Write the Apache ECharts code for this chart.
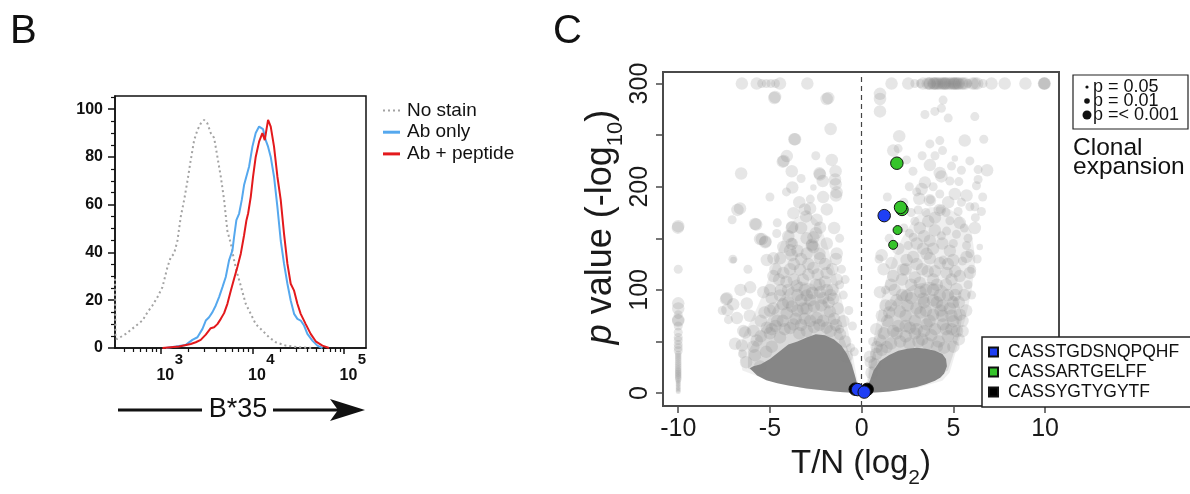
<!DOCTYPE html>
<html>
<head>
<meta charset="utf-8">
<script src="https://cdn.jsdelivr.net/npm/echarts@6.0.0/dist/echarts.min.js"></script>
<style>
  html, body { margin: 0; padding: 0; background: #fff; }
  #chart { width: 1190px; height: 494px; }
</style>
</head>
<body>
<div id="chart"></div>
<script>
// ---- panel B: B*35 staining histogram (x in log10 units) ----
var noStainX = [2.50, 2.505, 2.527, 2.618, 2.709, 2.80, 2.855, 2.909, 2.964, 3.018, 3.073, 3.109, 3.145, 3.182, 3.218, 3.255, 3.291, 3.327, 3.364, 3.40, 3.436, 3.473, 3.509, 3.545, 3.582, 3.618, 3.655, 3.691, 3.727, 3.764, 3.80, 3.836, 3.873, 3.927, 3.982, 4.036, 4.109, 4.182, 4.255, 4.364, 4.509, 4.655];
var noStainY = [29, 4, 3.8, 5.9, 8.7, 11.5, 15, 17.8, 21.3, 25.5, 33.9, 38, 39.5, 45, 55, 62, 70, 78.7, 87, 91.3, 94, 95.5, 94, 90, 88, 80, 71.7, 62, 49, 43.7, 36.7, 31, 26, 18.5, 14.3, 10, 7.3, 4.5, 2.4, 1, 0.3, 0];

var abOnlyX = [3.055, 3.164, 3.273, 3.345, 3.40, 3.455, 3.491, 3.527, 3.564, 3.60, 3.636, 3.673, 3.709, 3.745, 3.782, 3.80, 3.825, 3.855, 3.884, 3.909, 3.927, 3.964, 4.0, 4.036, 4.073, 4.091, 4.116, 4.145, 4.171, 4.20, 4.236, 4.273, 4.309, 4.345, 4.382, 4.418, 4.455, 4.491, 4.527, 4.564, 4.60, 4.655, 4.709, 4.764];
var abOnlyY = [0, 0.6, 1.3, 3.4, 4.5, 8, 11.5, 12.9, 15, 17.8, 21.3, 25.5, 29.7, 36.7, 40.9, 46.5, 53.5, 56.3, 62, 68.2, 67.5, 76, 84.3, 90, 92.7, 93.4, 91.6, 87, 84.3, 80, 71.7, 59, 45, 35.3, 26.9, 19.9, 14.3, 12.2, 11.5, 9.4, 5.9, 3.1, 1, 0];

var abPepX = [3.018, 3.20, 3.327, 3.382, 3.436, 3.491, 3.545, 3.582, 3.618, 3.655, 3.691, 3.727, 3.764, 3.80, 3.836, 3.873, 3.909, 3.935, 3.953, 3.982, 4.007, 4.036, 4.073, 4.109, 4.135, 4.153, 4.171, 4.20, 4.236, 4.273, 4.309, 4.345, 4.382, 4.418, 4.455, 4.491, 4.527, 4.582, 4.636, 4.691, 4.764, 4.836];
var abPepY = [0, 0.6, 1.7, 2.4, 3.4, 5.6, 8.3, 8.7, 10, 12.2, 14.6, 18.5, 24, 29, 33.9, 39.5, 47.2, 53.5, 56.3, 63.3, 71.7, 80, 86.4, 90, 87, 91.3, 95.5, 92.7, 84.3, 71.7, 62, 47.9, 35.3, 26.9, 24, 18.5, 14.3, 10, 5.9, 2.8, 1, 0];

var xTickLog = [3, 4, 5];
var minorTickValues = [400, 500, 600, 700, 800, 900, 2000, 3000, 4000, 5000, 6000, 7000, 8000, 9000, 20000, 30000, 40000, 50000, 60000, 70000, 80000, 90000];
var yTicksB = [0, 20, 40, 60, 80, 100];
var yMinorB = [5, 10, 15, 25, 30, 35, 45, 50, 55, 65, 70, 75, 85, 90, 95, 105];

// ---- panel C: volcano, points are [T/N log2, -log10 p, size class] ----
var topRow = [[-6.53,300,3],[-5.72,300,3],[-5.45,300,2],[-5.2,300,2],[-4.95,300,2],[-4.7,300,2],[-4.45,300,3],[-2.96,300,3],
  [1.63,300,3],[2.54,300,3],[2.9,300,2],[3.2,300,2],[3.35,300,3],[3.6,300,3],[3.72,300,3],[3.9,300,3],[4.08,300,3],[4.25,300,3],[4.44,300,3],[4.6,300,3],[4.81,300,3],[5.0,300,3],[5.17,300,3],[5.3,300,3],[5.53,300,3],[5.8,300,2],[6.17,300,3],[6.3,300,3],[6.62,300,2],[7.08,300,3],[7.8,300,3],[8.93,300,3],[9.94,300,3],[9.96,300,3],[9.98,300,3],
  [3.7,300,3],[3.95,300,3],[4.15,300,3],[4.35,300,3],[4.55,300,3],[4.7,300,3],[4.9,300,3],[5.05,300,3],[5.25,300,3],[5.45,300,3],[5.65,300,3],[6.05,300,3],[4.5,300,3],[5.1,300,3],[4.0,300,3]];

var leftCloud = [[-4.76,286,3],[-1.82,286,3],[-1.69,256,3],[-3.67,246,3],[-4.08,229.7,3],[-4.3,224.3,3],[-4.25,225,3],[-3.81,215,3],[-6.57,212.8,3],[-2.27,211.9,3],[-2.3,213,3],[-2.12,205.6,3],[-1.63,226,3],[-1.42,215,3],[-1.42,202.5,3],[-3.78,199.3,3],[-2.63,199.3,1],[-1.4,191.5,3],[-6.63,179,3],[-6.77,177.5,3],[-7.06,168,2],[-10.02,160.3,3],[-5.81,164,3],[-3.72,174.4,3],[-3.03,171.2,3],[-2.81,179,3],[-3.81,160.3,3],[-3.78,161,3],[-2.45,168,3],[-2.27,160.3,3],[-2.63,151,3],[-2.72,143,3],[-2.7,144,3],[-3.81,144.7,3],[-3.78,146,2],[-4.27,141.6,3],[-5.54,149.3,3],[-5.26,146.2,3],[-5.24,147,3],[-4.63,154.7,2],[-1.36,135.3,3],[-3.81,133.7,3],[-2.99,135.3,3],[-2.27,130.6,3],[-4.81,130.6,3],[-6.99,129,1],
  [-7.02,129.7,2],[-5.17,129,3],[-4.45,130.6,3],[-3.9,138.4,3],[-2.63,141.6,3],[-4.81,113.4,3],[-4.27,116.5,3],[-3.36,119.6,3],[-2.63,121.2,3],[-1.91,116.5,3],[-1.36,110.2,3],[-6.08,102.5,3],[-5.36,97.8,3],[-4.45,94.7,3],[-3.54,104,3],[-2.99,94.7,3],[-2.27,97.8,3],[-1.55,91.5,3],[-7.39,91,3],[-7.35,92,3],[-6.26,86.8,3],[-7.32,80.6,3],[-7.26,71.2,2],[-4.81,82,3],[-4.08,77.4,3],[-3.18,82,3],[-2.45,72.7,3],[-1.73,79,3],[-1.0,69.7,3],[-6.45,60.3,3],[-5.9,60.3,3],[-6.53,46.2,3],[-5.72,51,3],[-5.17,63.4,3],[-4.45,54,3],[-3.72,66.6,3],[-2.99,60.3,3],[-1.91,63.4,3],[-1.18,57.2,3],[-0.82,35.3,3],[-5.81,36.8,3],[-5.54,25.9,3],
  [-4.72,287,3],[-3.63,246,3],[-1.91,285,3],[-6.35,58.7,3],[-6.9,47.8,3],[-6.8,72.7,3],[-5.75,163.4,3],[-5.44,149.3,3],[-1.45,207,3],[-1.36,194.6,3],
  [-3.5,80,3],[-2.8,90,3],[-2.2,85,3],[-1.6,100,3],[-3.2,110,3],[-2.0,125,3],[-1.0,95,2],[-0.7,80,2],[-4.0,100,3],[-4.6,70,3],[-5.0,80,3],[-5.5,70,3],[-3.0,150,3],[-2.4,115,3],[-1.2,150,2],[-1.9,178,3],[-1.5,160,3],[-3.4,185,3],[-3.3,130,3],[-3.9,120,3],[-2.5,105,3],[-1.8,88,3],[-3.1,72,3],[-4.2,62,3],[-4.9,45,3],[-3.4,58,3],[-2.6,64,3],[-2.1,70,3],[-1.5,72,3],[-0.9,50,3],[-0.6,44,2],[-5.2,40,3],[-4.0,88,3],[-2.9,115,3],[-3.5,95,3],[-1.3,82,3],[-2.0,108,3],[-4.5,110,3],[-3.7,125,3],[-1.1,120,2],
  [-5.9,45,3],[-5.5,55,3],[-5.0,58,3],[-4.7,65,3],[-4.3,70,3],[-3.9,63,3],[-3.6,72,3],[-3.3,66,3],[-2.8,70,3],[-2.3,66,3],[-1.7,60,3],[-1.4,66,3],[-1.2,62,2],[-5.3,78,3],[-4.9,92,3],[-4.3,86,3],[-3.8,84,3],[-3.3,90,3],[-2.6,84,3],[-2.1,92,3],[-1.7,95,3],[-1.2,105,2],[-4.7,120,3],[-4.1,108,3],[-3.7,110,3],[-3.1,100,3],[-2.7,97,3],[-2.3,105,3],[-1.9,100,3],[-1.6,120,3],[-2.9,125,3],[-3.5,138,3],[-2.3,135,3],[-1.9,145,3],[-2.5,155,3],[-3.3,160,3],[-4.0,152,3],[-4.6,165,2],[-3.1,178,3],[-2.1,190,3],[-2.8,188,2],[-4.1,195,2],[-3.3,208,2],[-2.5,230,2],[-5.0,190,2],[-6.2,120,2],[-6.6,100,3],[-7.0,86,3],[-7.6,80,2],[-6.1,75,3],[-5.0,100,3],[-4.4,100,3],[-3.0,82,3],[-1.4,130,3],[-0.9,110,2],[-0.5,65,2],[-0.4,40,2],[-6.3,30,3],[-6.5,38,2],[-4.9,62,3]];

var rightCloud = [[1.0,290,3],[1.0,285,3],[1.0,273,3],[4.44,284,2],[4.35,276,2],[3.99,273,2],[3.45,270,2],[4.72,266.5,2],[6.17,268,2],[2.05,249,3],[1.72,235,3],[1.99,237,2],[2.45,226,2],[3.72,241.5,2],[4.26,244.7,2],[4.41,235,2],[5.62,244.7,3],[6.66,246,2],[5.08,227.4,1],[3.72,221,3],[4.26,213.4,3],[4.35,210,3],[5.44,216,2],[6.35,216.6,2],[6.84,216,3],[4.81,205.6,2],[3.45,204,3],[3.27,197.8,3],[6.35,207,2],[6.26,201,2],[4.26,193,2],[5.08,193,3],[5.72,191.5,3],[3.14,188.4,3],[3.72,186.8,3],[3.75,187.5,2],[4.72,185,3],[5.44,185,2],[5.9,180.6,2],[3.08,177.5,2],[4.26,177.5,3],[4.29,178,2],[5.26,176,2],[6.17,180.6,2],[6.53,176,2],[2.9,166.5,2],[3.63,166.5,3],[4.81,167,2],[5.35,165,3],[3.17,160,3],[3.99,157.8,3],[4.63,157,2],[6.17,160,3],[2.81,151,2],[3.72,147.7,3],[4.35,152.4,2],[5.17,154,2],[5.72,143,2],[6.44,141.6,1],[2.54,143,2],[3.35,140,3],[4.81,138,3],[1.09,133.7,3],[2.45,129,3],[3.72,130.6,3],[4.44,129,2],[5.9,135.3,2],
  [1.63,126,3],[1.0,97.8,3],[1.72,113.4,3],[2.26,119.6,3],[2.81,132,3],[3.54,135,3],[4.26,126,3],[4.99,129,3],[5.72,132,3],[3.17,107,3],[3.9,110,3],[4.63,116.5,3],[5.35,113.4,3],[5.9,116.5,3],[2.45,94.7,3],[3.35,91.5,3],[4.26,94.7,3],[5.17,100.9,3],[2.08,79,3],[2.99,82,3],[3.9,76,3],[4.81,82,3],[5.35,76,3],[1.72,60.3,3],[2.63,63.4,3],[3.54,66.6,3],[4.44,66.6,3],[4.99,69.7,3],[0.45,35.3,3],[1.0,51,3],[0.82,44.6,3],[1.36,44.6,3],[0.54,19.7,3],
  [1.4,70,3],[2.0,65,3],[2.4,55,3],[2.9,58,3],[3.3,52,3],[3.8,56,3],[4.2,50,3],[4.7,55,3],[5.2,60,3],[5.5,70,3],[5.0,88,3],[4.4,85,3],[3.9,90,3],[3.2,98,3],[2.7,105,3],[2.2,110,3],[1.8,100,3],[1.3,85,3],[1.1,75,3],[0.8,62,3],[3.6,118,3],[4.1,105,3],[4.9,110,3],[5.6,95,3],[5.8,105,2],[6.0,120,2],[3.0,125,3],[2.0,140,3],[1.5,150,2],[1.2,120,3],[2.7,175,2],[3.0,195,2],[2.6,200,2],[1.4,190,2],[0.95,130,2],[2.3,160,2],[5.6,160,2],[5.0,145,2],[6.6,190,2],[4.0,230,2],[3.3,230,2],[2.8,215,2],[2.2,95,3],[2.9,70,3],[3.5,80,3],[4.4,75,3],[4.7,95,3],[1.6,85,3],[2.5,85,3],[3.9,100,3],[4.6,62,3],[5.3,88,3],[0.7,28,3],[0.6,50,2],
  [0.5,30,3],[0.8,38,3],[1.1,42,3],[1.6,48,3],[2.1,50,3],[2.6,48,3],[3.1,50,3],[3.6,48,3],[4.1,45,3],[4.5,44,3],[5.0,45,3],[5.3,52,3],[1.2,58,3],[1.9,58,3],[2.4,65,3],[3.0,62,3],[3.4,60,3],[4.0,62,3],[4.9,62,3],[5.5,60,3],[5.7,80,3],[1.5,78,3],[2.4,75,3],[3.2,78,3],[3.7,70,3],[4.3,80,3],[4.9,75,3],[5.1,95,3],[1.9,90,3],[2.7,92,3],[3.4,88,3],[4.1,88,3],[4.6,105,3],[3.5,100,3],[2.9,112,3],[2.4,120,3],[1.6,105,3],[1.3,100,2],[3.3,120,3],[4.0,118,3],[5.1,118,3],[5.5,128,2],[4.7,125,3],[3.9,140,3],[4.4,145,3],[3.0,145,3],[2.6,155,2],[3.4,152,3],[4.0,170,3],[4.6,175,2],[3.5,175,2],[5.8,150,2],[6.2,170,2],[2.3,185,2],[3.9,200,2],[5.3,205,2],[4.9,220,2],[5.9,225,2],[6.0,95,2],[6.3,130,2]];

var col10 = [[-10,161.8,3],[-10,120,2],[-10,87,3],[-10,82,3],[-10,76,2],[-10,71,3],[-10,70,3],[-10,65,2],[-10,59,2],[-10,54,2],[-10,51,2],[-10,47,2],[-10,44,2],[-10,41,2],[-10,38,1],[-10,36,1],[-10,34,1],[-10,32,1],[-10,30,1],[-10,28,1],[-10,26,1],[-10,24,1],[-10,22.5,1],[-10,21,1],[-10,19.5,1],[-10,18,1],[-10,16.5,1],[-10,15,1],[-10,13.5,1],[-10,12,0],[-10,10.5,0],[-10,9,0],[-10,7.5,0],[-10,6,0],[-10,4.5,0],[-10,3,0],[-10,1.5,0]];

// saturated cores and the denser halos around them (outlines)
var coreLeft = [[-6.1,24],[-5.7,17],[-5.2,12.5],[-4.6,9.5],[-4,7.3],[-3.5,5.8],[-3,4.5],[-2.5,3.4],[-2,2.5],[-1.5,1.6],[-1,0.9],[-0.5,0.3],[0,0],[-0.2,6],[-0.35,16],[-0.55,28],[-0.8,38],[-1.1,46],[-1.5,52],[-2.0,56],[-2.5,57],[-3.0,54],[-3.5,50],[-4.0,47],[-4.5,40],[-5.0,33],[-5.5,28],[-5.9,26]];
var coreRight = [[0,0],[0.5,0.3],[1,0.8],[1.5,1.6],[2,2.8],[2.5,4.2],[3,6],[3.5,8.5],[4,12],[4.3,15],[4.5,19],[4.65,26],[4.6,33],[4.4,38],[4.0,41],[3.5,43],[3.0,44],[2.5,43],[2.0,41],[1.5,37],[1.0,31],[0.65,22],[0.45,12],[0.25,5]];
var haloLeftOuter = [[-6.5,22],[-6.7,40],[-6.4,58],[-5.9,75],[-5.4,95],[-5.0,115],[-4.6,135],[-4.2,155],[-3.6,170],[-2.9,175],[-2.3,165],[-1.9,145],[-1.5,120],[-1.1,92],[-0.8,66],[-0.55,44],[-0.35,24],[-0.15,5],[-1,1],[-3,4],[-5,12]];
var haloLeftInner = [[-6.2,24],[-6.2,40],[-5.7,55],[-5.1,72],[-4.6,88],[-4.1,100],[-3.4,108],[-2.7,106],[-2.1,95],[-1.6,80],[-1.2,64],[-0.8,45],[-0.5,28],[-0.3,10],[-2,3],[-5,12]];
var haloRightOuter = [[0.2,3],[0.35,20],[0.5,40],[0.75,62],[1.0,85],[1.3,108],[1.7,130],[2.2,150],[2.9,170],[3.7,180],[4.6,180],[5.4,172],[6.0,155],[6.2,130],[6.0,100],[5.7,75],[5.3,50],[5.0,32],[4.8,20],[4.4,12],[3,5],[1.5,1.5]];
var haloRightInner = [[0.3,5],[0.45,25],[0.7,45],[1.0,62],[1.4,80],[2.0,95],[2.8,105],[3.7,108],[4.5,104],[5.2,92],[5.5,75],[5.3,55],[5.0,38],[4.7,22],[3,6],[1,1]];

var blueSeq = [[1.23,172,3],[-0.22,3.4,3],[0.14,1,3]];
var greenSeq = [[1.92,222.8,3],[2.2,178,3],[2.12,180,3],[1.96,158,2],[1.72,143.7,2]];
var blackSeq = [[-0.35,3.8,3],[0.3,3.6,3]];

var xTicksC = [-10, -5, 0, 5, 10];
var yTicksC = [0, 50, 100, 150, 200, 250, 300];
var yLabelsC = [0, 100, 200, 300];

var sizeByClass = [5, 6.5, 9, 12.5];
var FONT = 'Liberation Sans, Arial, sans-serif';

function pairs(xs, ys) {
  return xs.map(function (x, i) { return [x, ys[i]]; });
}
function areaSeries(name, verts, fill, z) {
  return {
    name: name, type: 'custom', xAxisIndex: 2, yAxisIndex: 2, silent: true, z: z,
    data: verts,
    renderItem: function (params, api) {
      if (params.dataIndex !== 0) return null;
      return {
        type: 'polygon',
        shape: { points: verts.map(function (v) { return api.coord(v); }) },
        style: { fill: fill }
      };
    }
  };
}
function seqSeries(name, data, color, z) {
  return {
    name: name, type: 'scatter', xAxisIndex: 2, yAxisIndex: 2, z: z, silent: true,
    data: data,
    symbolSize: function (d) { return sizeByClass[d[2]]; },
    itemStyle: { color: color, borderColor: '#111', borderWidth: 1, opacity: 1 }
  };
}

var chart = echarts.init(document.getElementById('chart'));
var option = {
  animation: false,
  textStyle: { fontFamily: FONT },
  grid: [
    { left: 115, top: 96, width: 251, height: 252, show: true, borderColor: '#111', borderWidth: 1.5 },
    { left: 663, top: 72, width: 396, height: 346, show: true, borderColor: '#4a4a4a', borderWidth: 2 }
  ],
  xAxis: [
    {
      gridIndex: 0, type: 'value', min: 2.5, max: 5.24,
      axisLine: { onZero: false, lineStyle: { color: '#111', width: 1.5 } },
      axisTick: { customValues: xTickLog, length: 6, lineStyle: { color: '#111', width: 1.5 } },
      axisLabel: {
        customValues: xTickLog, margin: 20, fontSize: 16, fontWeight: 'bold', color: '#111',
        padding: [0, 0, 0, 9],
        formatter: function () { return '10'; }
      },
      splitLine: { show: false }
    },
    {
      // minor log ticks and the exponents of the decade labels
      gridIndex: 0, type: 'value', min: 2.5, max: 5.24, position: 'bottom',
      axisLine: { show: false, onZero: false },
      axisTick: { customValues: minorTickValues.map(function (v) { return Math.log10(v); }), length: 4, lineStyle: { color: '#111', width: 1.2 } },
      axisLabel: {
        customValues: xTickLog, margin: 4, fontSize: 15, fontWeight: 'bold', color: '#111',
        padding: [0, 0, 0, 36]
      },
      splitLine: { show: false }
    },
    {
      gridIndex: 1, type: 'value', min: -10.83, max: 10.76,
      axisLine: { onZero: false, lineStyle: { color: '#4a4a4a', width: 2 } },
      axisTick: { customValues: xTicksC, length: 7, lineStyle: { color: '#4a4a4a', width: 1.5 } },
      axisLabel: { customValues: xTicksC, fontSize: 25, color: '#1a1a1a', margin: 11 },
      splitLine: { show: false },
      name: '{n|T/N (log}{sub|2}{n|)}', nameLocation: 'middle', nameGap: 36,
      nameTextStyle: {
        rich: {
          n: { fontSize: 33, color: '#1a1a1a', lineHeight: 36, verticalAlign: 'top' },
          sub: { fontSize: 21, color: '#1a1a1a', lineHeight: 20, verticalAlign: 'top', padding: [21, 0, 0, 0] }
        }
      }
    }
  ],
  yAxis: [
    {
      gridIndex: 0, type: 'value', min: 0, max: 105.5,
      axisLine: { onZero: false, lineStyle: { color: '#111', width: 1.5 } },
      axisTick: { customValues: yTicksB, length: 7, lineStyle: { color: '#111', width: 1.5 } },
      axisLabel: { customValues: yTicksB, fontSize: 16, fontWeight: 'bold', color: '#111', margin: 12 },
      splitLine: { show: false }
    },
    {
      gridIndex: 0, type: 'value', min: 0, max: 105.5, position: 'left',
      axisLine: { show: false, onZero: false },
      axisTick: { customValues: yMinorB, length: 4, lineStyle: { color: '#111', width: 1.2 } },
      axisLabel: { show: false },
      splitLine: { show: false }
    },
    {
      gridIndex: 1, type: 'value', min: -12.6, max: 311.2,
      axisLine: { onZero: false, lineStyle: { color: '#4a4a4a', width: 2 } },
      axisTick: { customValues: yTicksC, length: 7, lineStyle: { color: '#4a4a4a', width: 1.5 } },
      axisLabel: { customValues: yLabelsC, rotate: 90, fontSize: 25, color: '#1a1a1a', margin: 10 },
      splitLine: { show: false },
      name: '{i|p}{n| value (-log}{sub|10}{n|)}', nameLocation: 'middle', nameRotate: 90, nameGap: 40,
      nameTextStyle: {
        rich: {
          i: { fontSize: 36, fontStyle: 'italic', color: '#1a1a1a', lineHeight: 38, verticalAlign: 'top', padding: [0, 0, 0, 24] },
          n: { fontSize: 36, color: '#1a1a1a', lineHeight: 38, verticalAlign: 'top' },
          sub: { fontSize: 22, color: '#1a1a1a', lineHeight: 22, verticalAlign: 'top', padding: [22, 0, 0, 0] }
        }
      }
    }
  ],
  legend: [
    {
      data: [
        { name: 'No stain', icon: 'path://M0,0h2v2h-2zM5,0h2v2h-2zM10,0h2v2h-2zM15,0h2v2h-2z' },
        { name: 'Ab only', icon: 'rect' },
        { name: 'Ab + peptide', icon: 'rect' }
      ],
      left: 383, top: 101, orient: 'vertical',
      padding: 0, itemWidth: 17, itemHeight: 3, itemGap: 2.7, selectedMode: false,
      textStyle: { fontSize: 19, color: '#111', lineHeight: 19, padding: [0, 0, 0, 2] }
    },
    {
      data: ['CASSTGDSNQPQHF', 'CASSARTGELFF', 'CASSYGTYGYTF'], left: 982, top: 337, orient: 'vertical',
      icon: 'rect', itemWidth: 9, itemHeight: 9, itemGap: 2, selectedMode: false,
      padding: [6, 12, 6, 6], borderColor: '#222', borderWidth: 1.5, backgroundColor: '#fff',
      textStyle: { fontSize: 17.5, color: '#111', lineHeight: 18, padding: [0, 0, 0, 5] }
    }
  ],
  series: [
    { name: 'No stain', type: 'line', xAxisIndex: 0, yAxisIndex: 0, symbol: 'none', silent: true,
      data: pairs(noStainX, noStainY), lineStyle: { color: '#a3a3a3', width: 2, type: [2, 3] }, itemStyle: { color: '#a3a3a3' } },
    { name: 'Ab only', type: 'line', xAxisIndex: 0, yAxisIndex: 0, symbol: 'none', silent: true,
      data: pairs(abOnlyX, abOnlyY), lineStyle: { color: '#55a8ee', width: 2 }, itemStyle: { color: '#55a8ee' } },
    { name: 'Ab + peptide', type: 'line', xAxisIndex: 0, yAxisIndex: 0, symbol: 'none', silent: true,
      data: pairs(abPepX, abPepY), lineStyle: { color: '#e3191c', width: 2 }, itemStyle: { color: '#e3191c' } },
    areaSeries('haloLeftOuter', haloLeftOuter, 'rgba(128,128,128,0.13)', 1),
    areaSeries('haloRightOuter', haloRightOuter, 'rgba(128,128,128,0.13)', 1),
    areaSeries('haloLeftInner', haloLeftInner, 'rgba(128,128,128,0.2)', 1),
    areaSeries('haloRightInner', haloRightInner, 'rgba(128,128,128,0.2)', 1),
    areaSeries('coreLeft', coreLeft, '#868686', 1),
    areaSeries('coreRight', coreRight, '#868686', 1),
    {
      name: 'clones', type: 'scatter', xAxisIndex: 2, yAxisIndex: 2, z: 2, silent: true,
      data: topRow.concat(leftCloud, rightCloud, col10),
      symbolSize: function (d) { return sizeByClass[d[2]]; },
      itemStyle: { color: 'rgba(128,128,128,0.25)' },
      markLine: {
        silent: true, symbol: 'none', label: { show: false },
        lineStyle: { color: '#444', type: [5, 4], width: 1.2 },
        data: [{ xAxis: 0 }]
      }
    },
    seqSeries('CASSYGTYGYTF', blackSeq, '#000000', 3),
    seqSeries('CASSARTGELFF', greenSeq, '#35c42a', 4),
    seqSeries('CASSTGDSNQPQHF', blueSeq, '#1f3ff5', 5)
  ],
  graphic: [
    { type: 'text', left: 10, top: 12, style: { text: 'B', fontSize: 40, fontFamily: FONT, fill: '#111' } },
    { type: 'text', left: 553, top: 12, style: { text: 'C', fontSize: 40, fontFamily: FONT, fill: '#111' } },
    { type: 'line', shape: { x1: 118, y1: 410, x2: 202, y2: 410 }, style: { stroke: '#111', lineWidth: 3 } },
    { type: 'text', x: 238, y: 410, style: { text: 'B*35', fontSize: 27, fontFamily: FONT, fill: '#111', align: 'center', verticalAlign: 'middle' } },
    { type: 'line', shape: { x1: 273, y1: 410, x2: 340, y2: 410 }, style: { stroke: '#111', lineWidth: 3 } },
    { type: 'polygon', shape: { points: [[330, 399], [365, 410], [330, 421], [338, 410]] }, style: { fill: '#111' } },
    // size key
    { type: 'rect', shape: { x: 1073, y: 75, width: 115, height: 54 }, style: { fill: '#fff', stroke: '#222', lineWidth: 1.2 } },
    { type: 'circle', shape: { cx: 1087, cy: 87, r: 1.6 }, style: { fill: '#111' } },
    { type: 'circle', shape: { cx: 1087, cy: 101, r: 2.8 }, style: { fill: '#111' } },
    { type: 'circle', shape: { cx: 1087, cy: 115, r: 4.5 }, style: { fill: '#111' } },
    { type: 'text', x: 1093, y: 87, style: { text: 'p = 0.05', fontSize: 18, fontFamily: FONT, fill: '#111', verticalAlign: 'middle' } },
    { type: 'text', x: 1093, y: 101, style: { text: 'p = 0.01', fontSize: 18, fontFamily: FONT, fill: '#111', verticalAlign: 'middle' } },
    { type: 'text', x: 1093, y: 115, style: { text: 'p =< 0.001', fontSize: 18, fontFamily: FONT, fill: '#111', verticalAlign: 'middle' } },
    { type: 'text', x: 1073, y: 148, style: { text: 'Clonal', fontSize: 24.5, fontFamily: FONT, fill: '#111', verticalAlign: 'middle' } },
    { type: 'text', x: 1073, y: 167, style: { text: 'expansion', fontSize: 24.5, fontFamily: FONT, fill: '#111', verticalAlign: 'middle' } }
  ]
};
chart.setOption(option);
</script>
</body>
</html>
